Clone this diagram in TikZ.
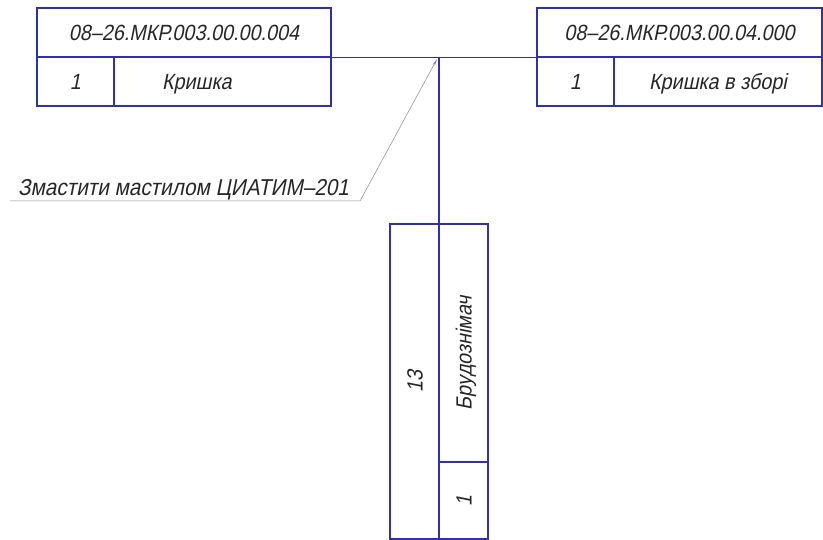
\documentclass[tikz,border=0pt]{standalone}
\usepackage{fontspec}
\setmainfont{Liberation Sans}[FakeSlant=0.2,FakeStretch=0.9]
\usetikzlibrary{arrows.meta}
\definecolor{gostBlue}{HTML}{3030B0}
\definecolor{gostInk}{HTML}{262626}
\definecolor{gostLeader}{HTML}{8A8A8A}

\begin{document}
\begin{tikzpicture}[x=1pt,y=-1pt,
  cell/.style={draw=gostBlue,line width=1.4pt,inner sep=0pt,
               minimum height=49pt,text height=16pt,text depth=0pt,
               font=\fontsize{22}{24}\selectfont,text=gostInk},
  link/.style={draw=gostBlue,line width=1.4pt},
  leader/.style={draw=gostLeader,line width=0.5pt,
                 -{Stealth[length=7pt,width=2.6pt]}}]
  \useasboundingbox (0,0) rectangle (823,540);
  % left table
  \node[cell,minimum width=294pt] (lcode) at (184,32.5)  {08--26.МКР.003.00.00.004};
  \node[cell,minimum width=77pt]  (lnum)  at (75.5,81.5) {1};
  \node[cell,inner xsep=48pt,text width=121pt,align=left]
                                  (lname) at (222.5,81.5) {Кришка};
  % right table
  \node[cell,minimum width=285pt] (rcode) at (679.5,32.5) {08--26.МКР.003.00.04.000};
  \node[cell,minimum width=77pt]  (rnum)  at (575.5,81.5) {1};
  \node[cell,minimum width=208pt] (rname) at (718,81.5)   {Кришка в зборі};
  % bottom table (turned)
  \node[cell,rotate=90,minimum width=315pt] (bnum)  at (414.5,381.5) {13};
  \node[cell,rotate=90,inner xsep=52pt,text width=134pt,align=left]
                                            (bname) at (463.5,343)   {Брудознімач};
  \node[cell,rotate=90,minimum width=77pt]  (bqty)  at (463.5,500.5) {1};
  % links
  \coordinate (joint) at (439,57);
  \draw[link] (lcode.south east) -- (rcode.south west);
  \draw[link] (joint) -- (joint |- bname.east);
  % leader with note
  \coordinate (tail) at (10,201);
  \coordinate (knee) at (360,201);
  \coordinate (tip)  at (437,59);
  \draw[leader] (tail) -- (knee) -- (tip);
  \node[anchor=base west,inner sep=0pt,text=gostInk,
        font=\fontsize{23}{25}\selectfont] (note) at (18,196)
    {Змастити мастилом ЦИАТИМ--201};
\end{tikzpicture}
\end{document}
